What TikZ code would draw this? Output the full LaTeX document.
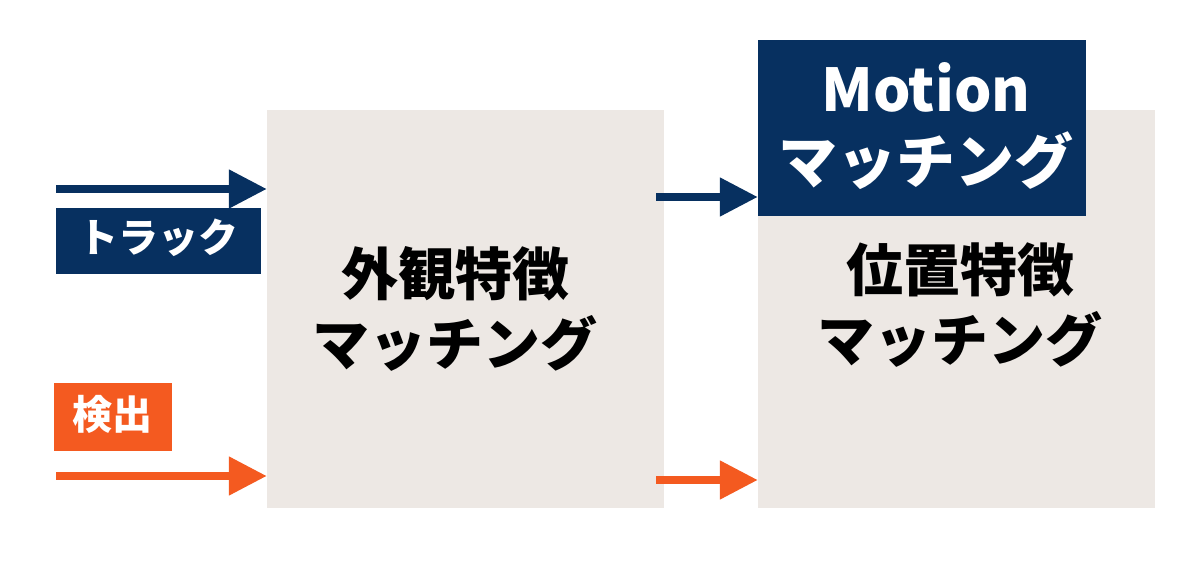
\documentclass[tikz,border=0pt]{standalone}
\usepackage{fontspec}
\newfontfamily\jp{Noto Sans CJK JP}
\usetikzlibrary{arrows.meta}
\definecolor{navy}{RGB}{7,48,96}
\definecolor{orng}{RGB}{244,90,32}
\definecolor{panel}{RGB}{237,232,228}
\begin{document}
\begin{tikzpicture}[x=1pt,y=-1pt,
  panelbox/.style={fill=panel,draw=none,inner sep=0,minimum width=397pt,minimum height=398pt},
  tagbox/.style={draw=none,inner sep=0,text=white,font=\jp\bfseries\fontsize{40}{48}\selectfont},
  bigtext/.style={align=center,inner sep=0,font=\jp\bfseries\fontsize{57}{70}\selectfont},
  flow/.style={line width=8pt,-{Triangle[length=38pt,width=37pt]}},
]
\useasboundingbox (0,0) rectangle (1181,561);
\fill[white] (0,0) rectangle (1181,561);
% panels
\node[panelbox] (left) at (465.5,309) {};
\node[panelbox] (right) at (956.5,309) {};
% motion box
\node[fill=navy,inner sep=0,minimum width=328pt,minimum height=176pt] (motion) at (922,128) {};
\node[bigtext,text=white,font=\jp\bfseries\fontsize{59}{72}\selectfont] (motiontext) at (926,126) {Motion\\マッチング};
% tags
\node[tagbox,fill=navy,minimum width=205pt,minimum height=66pt] (track) at (158.5,241) {};
\node[tagbox] (tracktext) at (158.5,238) {トラック};
\node[tagbox,fill=orng,minimum width=118pt,minimum height=68pt] (det) at (113,417) {};
\node[tagbox] (dettext) at (112,414) {検出};
% big texts
\node[bigtext] (lefttext) at (455,309) {外観特徴\\マッチング};
\node[bigtext] (righttext) at (960,305) {位置特徴\\マッチング};
% arrows
\coordinate (tstart) at (56,189);
\coordinate (dstart) at (56,476);
\coordinate (mstart) at (656,197);
\coordinate (ostart) at (656,480);
\draw[flow,navy] (tstart) -- (tstart -| left.west);
\draw[flow,orng] (dstart) -- (dstart -| left.west);
\draw[flow,navy] (mstart) -- (mstart -| motion.west);
\draw[flow,orng] (ostart) -- (ostart -| right.west);
\end{tikzpicture}
\end{document}
